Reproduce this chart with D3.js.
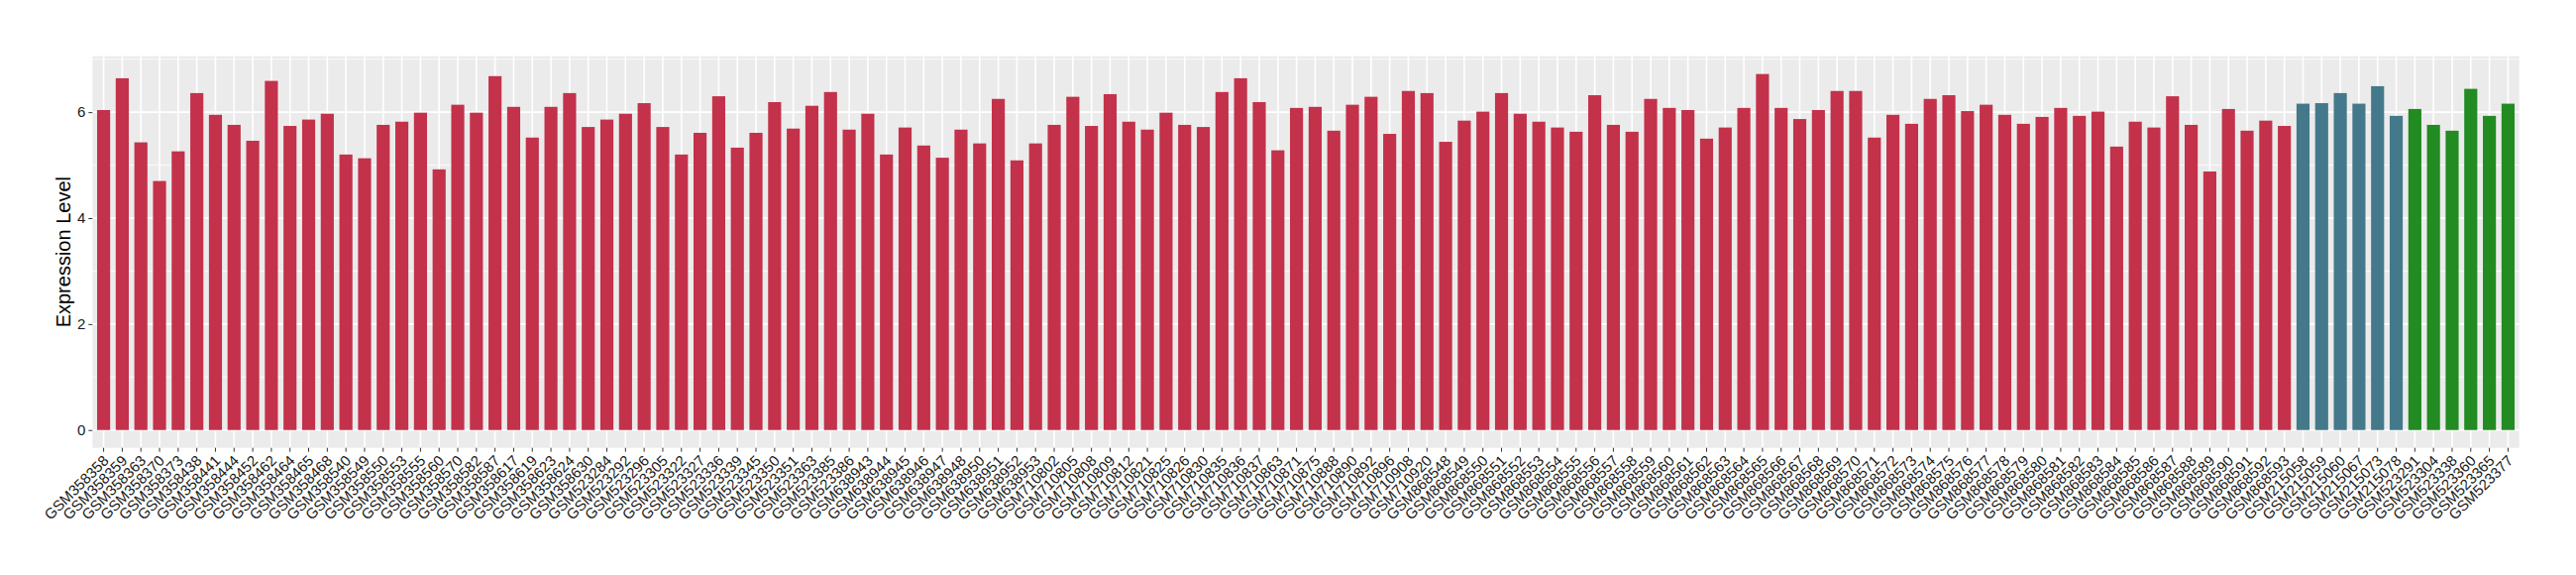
<!DOCTYPE html>
<meta charset="utf-8">
<style>
html, body {
  margin: 0;
  background: #fff;
}

.axis text {
  font-family: "Liberation Sans", Arial, sans-serif;
  fill: #1a1a1a;
}

.axis line {
  stroke: #333;
}

.axis path {
  display: none;
}
</style>

<svg></svg>

<script src="https://d3js.org/d3.v7.min.js"></script>
<script>

// red group
var redSamples = [
  'GSM358358', 'GSM358359', 'GSM358363', 'GSM358370', 'GSM358373', 'GSM358438', 'GSM358441',
  'GSM358444', 'GSM358452', 'GSM358462', 'GSM358464', 'GSM358465', 'GSM358468', 'GSM358540',
  'GSM358549', 'GSM358550', 'GSM358553', 'GSM358555', 'GSM358560', 'GSM358570', 'GSM358582',
  'GSM358587', 'GSM358617', 'GSM358619', 'GSM358623', 'GSM358624', 'GSM358630',
  'GSM523284', 'GSM523292', 'GSM523296', 'GSM523305', 'GSM523322', 'GSM523327', 'GSM523336',
  'GSM523339', 'GSM523345', 'GSM523350', 'GSM523351', 'GSM523363', 'GSM523385', 'GSM523386',
  'GSM638943', 'GSM638944', 'GSM638945', 'GSM638946', 'GSM638947', 'GSM638948', 'GSM638950',
  'GSM638951', 'GSM638952', 'GSM638953',
  'GSM710802', 'GSM710805', 'GSM710808', 'GSM710809', 'GSM710812', 'GSM710821', 'GSM710825',
  'GSM710826', 'GSM710830', 'GSM710835', 'GSM710836', 'GSM710837', 'GSM710863', 'GSM710871',
  'GSM710875', 'GSM710888', 'GSM710890', 'GSM710892', 'GSM710896', 'GSM710908', 'GSM710920',
  'GSM868548', 'GSM868549', 'GSM868550', 'GSM868551', 'GSM868552', 'GSM868553', 'GSM868554',
  'GSM868555', 'GSM868556', 'GSM868557', 'GSM868558', 'GSM868559', 'GSM868560', 'GSM868561',
  'GSM868562', 'GSM868563', 'GSM868564', 'GSM868565', 'GSM868566', 'GSM868567', 'GSM868568',
  'GSM868569', 'GSM868570', 'GSM868571', 'GSM868572', 'GSM868573', 'GSM868574', 'GSM868575',
  'GSM868576', 'GSM868577', 'GSM868578', 'GSM868579', 'GSM868580', 'GSM868581', 'GSM868582',
  'GSM868583', 'GSM868584', 'GSM868585', 'GSM868586', 'GSM868587', 'GSM868588', 'GSM868589',
  'GSM868590', 'GSM868591', 'GSM868592', 'GSM868593'
];
var redValues = [
  6.04, 6.64, 5.43, 4.70, 5.26, 6.36, 5.95, 5.76, 5.46, 6.59, 5.74, 5.86, 5.97, 5.20,
  5.13, 5.76, 5.82, 5.99, 4.92, 6.14, 5.99, 6.68, 6.10, 5.52, 6.10, 6.36, 5.72,
  5.86, 5.97, 6.17, 5.72, 5.20, 5.61, 6.30, 5.33, 5.61, 6.19, 5.69, 6.12, 6.38, 5.67,
  5.97, 5.20, 5.71, 5.37, 5.14, 5.67, 5.41, 6.25, 5.09, 5.41,
  5.76, 6.29, 5.74, 6.34, 5.82, 5.67, 5.99, 5.76, 5.72, 6.38, 6.64, 6.19, 5.28, 6.08,
  6.10, 5.65, 6.14, 6.29, 5.59, 6.40, 6.36,
  5.44, 5.84, 6.01, 6.36, 5.97, 5.82, 5.71, 5.63, 6.32, 5.76, 5.63, 6.25, 6.08, 6.04,
  5.50, 5.71, 6.08, 6.72, 6.08, 5.87, 6.04, 6.40, 6.40, 5.52, 5.95, 5.78, 6.25, 6.32,
  6.02, 6.14, 5.95, 5.78, 5.91, 6.08, 5.93, 6.01, 5.35, 5.82, 5.71, 6.30, 5.76, 4.88,
  6.06, 5.65, 5.84, 5.74
];

// blue group
var blueSamples = ['GSM215058', 'GSM215059', 'GSM215060', 'GSM215067', 'GSM215073', 'GSM215078'];
var blueValues = [6.16, 6.17, 6.36, 6.16, 6.49, 5.93];

// green group
var greenSamples = ['GSM523291', 'GSM523304', 'GSM523338', 'GSM523360', 'GSM523365', 'GSM523377'];
var greenValues = [6.06, 5.76, 5.65, 6.44, 5.93, 6.16];

var yTicks = [0, 2, 4, 6];
var yTitle = 'Expression Level';

var groupColors = {red: '#c3324a', blue: '#44798b', green: '#228b22'};

function rows(names, values, group) {
  return names.map(function (d, i) { return {name: d, value: values[i], group: group}; });
}

var data = rows(redSamples, redValues, 'red')
  .concat(rows(blueSamples, blueValues, 'blue'))
  .concat(rows(greenSamples, greenValues, 'green'));

var width = 2600;
var height = 580;
var panel = {left: 93.3, right: 2542.7, top: 56.7, bottom: 451.7};

var svg = d3.select('svg')
  .attr('width', width)
  .attr('height', height);

var maxVal = d3.max(data, function (d) { return d.value; });

var x = d3.scaleBand()
  .domain(data.map(function (d) { return d.name; }))
  .range([panel.left, panel.right])
  .paddingInner(0.3)
  .paddingOuter(0.25);

var y = d3.scaleLinear()
  .domain([-0.05 * maxVal, 1.05 * maxVal])
  .range([panel.bottom, panel.top]);

// panel background
svg.append('rect')
  .attr('x', panel.left)
  .attr('y', panel.top)
  .attr('width', panel.right - panel.left)
  .attr('height', panel.bottom - panel.top)
  .attr('fill', '#ebebeb');

// minor gridlines
svg.append('g')
  .selectAll('line').data([1, 3, 5, 7].filter(function (v) { return y(v) > panel.top; }))
  .enter().append('line')
  .attr('x1', panel.left).attr('x2', panel.right)
  .attr('y1', function (d) { return y(d); })
  .attr('y2', function (d) { return y(d); })
  .attr('stroke', '#fff')
  .attr('stroke-width', 0.8);

// major gridlines
svg.append('g')
  .selectAll('line').data(yTicks)
  .enter().append('line')
  .attr('x1', panel.left).attr('x2', panel.right)
  .attr('y1', function (d) { return y(d); })
  .attr('y2', function (d) { return y(d); })
  .attr('stroke', '#fff')
  .attr('stroke-width', 1.6);

svg.append('g')
  .selectAll('line').data(x.domain())
  .enter().append('line')
  .attr('x1', function (d) { return x(d) + x.bandwidth() / 2; })
  .attr('x2', function (d) { return x(d) + x.bandwidth() / 2; })
  .attr('y1', panel.top).attr('y2', panel.bottom)
  .attr('stroke', '#fff')
  .attr('stroke-width', 1.6);

// bars
svg.append('g')
  .selectAll('rect').data(data)
  .enter().append('rect')
  .attr('x', function (d) { return x(d.name); })
  .attr('width', x.bandwidth())
  .attr('y', function (d) { return y(d.value); })
  .attr('height', function (d) { return y(0) - y(d.value); })
  .attr('fill', function (d) { return groupColors[d.group]; });

// axes
svg.append('g')
  .attr('class', 'axis')
  .attr('transform', 'translate(' + panel.left + ',0)')
  .call(d3.axisLeft(y).tickValues(yTicks).tickSize(4).tickPadding(3))
  .selectAll('text')
  .style('font-size', '15px');

var xAxis = svg.append('g')
  .attr('class', 'axis')
  .attr('transform', 'translate(0,' + panel.bottom + ')')
  .call(d3.axisBottom(x).tickSize(4).tickPadding(0));

xAxis.selectAll('text')
  .style('font-size', '15px')
  .attr('text-anchor', 'end')
  .attr('dy', null)
  .attr('y', 0)
  .attr('transform', 'translate(6,14) rotate(-45)');

svg.append('text')
  .attr('transform', 'translate(71,' + ((panel.top + panel.bottom) / 2) + ') rotate(-90)')
  .attr('text-anchor', 'middle')
  .style('font-family', '"Liberation Sans", Arial, sans-serif')
  .style('font-size', '20px')
  .attr('fill', '#000')
  .text(yTitle);

</script>
